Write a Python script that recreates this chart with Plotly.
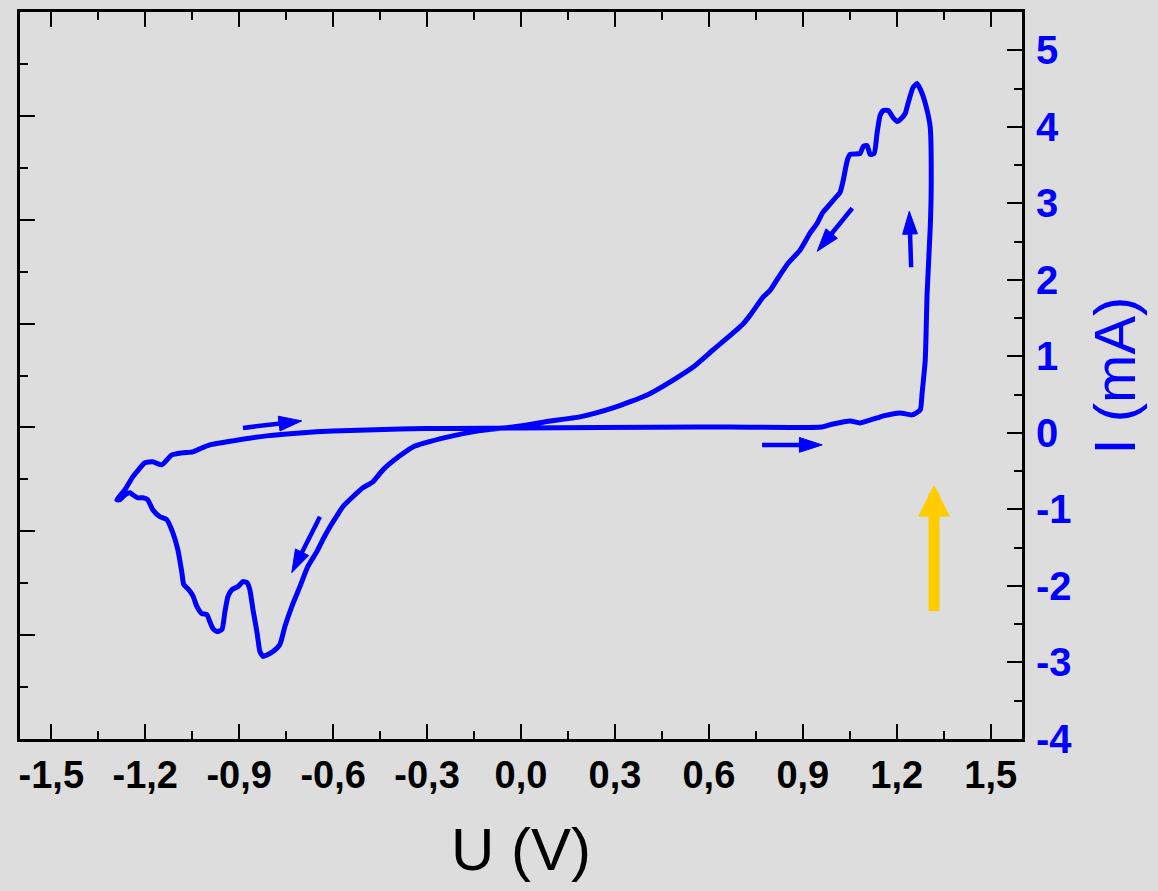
import plotly.graph_objects as go

# Cyclic voltammogram, U in V, I in mA
# forward sweep: from the cathodic vertex up to the anodic vertex
u_fwd = [-1.291, -1.265, -1.240, -1.227, -1.201, -1.176, -1.147, -1.115, -1.083, -1.048,
         -1.026, -0.994, -0.920, -0.812, -0.706, -0.601, -0.492, -0.387, -0.227, 0.000,
         0.252, 0.572, 0.962, 0.997, 1.051, 1.083, 1.137, 1.157, 1.211, 1.249, 1.275]
i_fwd = [-0.874, -0.743, -0.574, -0.509, -0.391, -0.378, -0.417, -0.287, -0.261, -0.248,
         -0.209, -0.157, -0.104, -0.039, 0.000, 0.026, 0.039, 0.052, 0.059, 0.065,
         0.072, 0.078, 0.078, 0.117, 0.157, 0.130, 0.196, 0.222, 0.261, 0.235, 0.300]

# steep anodic rise at the vertex
u_turn = [1.281, 1.291, 1.297, 1.307, 1.310, 1.307, 1.297, 1.281, 1.265]
i_turn = [0.522, 0.952, 1.826, 2.687, 3.209, 3.991, 4.213, 4.435, 4.565]

# reverse sweep: back down through the cathodic peaks to the vertex
u_rev = [1.252, 1.236, 1.227, 1.211, 1.201, 1.188, 1.173, 1.157, 1.147, 1.137,
         1.128, 1.115, 1.105, 1.093, 1.083, 1.051, 1.042, 1.029, 1.019, 0.997,
         0.978, 0.962, 0.946, 0.923, 0.891, 0.853, 0.827, 0.796, 0.773, 0.732,
         0.706, 0.613, 0.550, 0.486, 0.403, 0.294, 0.188, 0.083, -0.003, -0.131,
         -0.236, -0.345, -0.387, -0.441, -0.473, -0.505, -0.537, -0.569, -0.588, -0.610,
         -0.633, -0.652, -0.681, -0.706, -0.732, -0.754, -0.770, -0.792, -0.815, -0.824,
         -0.834, -0.843, -0.856, -0.866, -0.875, -0.888, -0.904, -0.923, -0.936, -0.946,
         -0.955, -0.971, -0.984, -0.994, -1.003, -1.019, -1.035, -1.048, -1.064, -1.077,
         -1.083, -1.096, -1.112, -1.131, -1.153, -1.176, -1.192, -1.208, -1.224, -1.240,
         -1.249, -1.265, -1.281, -1.291]
i_rev = [4.513, 4.304, 4.174, 4.095, 4.069, 4.121, 4.213, 4.213, 4.148, 3.913,
         3.652, 3.639, 3.756, 3.743, 3.652, 3.639, 3.561, 3.300, 3.143, 3.039,
         2.948, 2.869, 2.739, 2.609, 2.387, 2.217, 2.061, 1.865, 1.774, 1.539,
         1.409, 1.083, 0.861, 0.691, 0.496, 0.326, 0.209, 0.150, 0.090, 0.030,
         -0.055, -0.183, -0.300, -0.483, -0.639, -0.717, -0.835, -0.965, -1.083, -1.226,
         -1.396, -1.552, -1.748, -2.009, -2.269, -2.530, -2.765, -2.856, -2.909, -2.922,
         -2.856, -2.609, -2.309, -2.048, -1.956, -1.943, -2.009, -2.048, -2.139, -2.348,
         -2.569, -2.596, -2.556, -2.465, -2.374, -2.361, -2.269, -2.126, -2.035, -1.983,
         -1.826, -1.526, -1.304, -1.135, -1.096, -1.004, -0.874, -0.848, -0.848, -0.809,
         -0.783, -0.809, -0.874, -0.874]

# sweep direction arrows: (U, I) of tail and head
sweep_arrows = [
    ((-0.888, 0.065), (-0.700, 0.157)),
    ((0.770, -0.157), (0.962, -0.157)),
    ((1.246, 2.165), (1.240, 2.896)),
    ((1.058, 2.935), (0.946, 2.374)),
    ((-0.642, -1.096), (-0.732, -1.826)),
]
# highlighted vertex marker (tail, head)
vertex_arrow = ((1.319, -2.348), (1.319, -0.678))

x_ticks = [-1.5, -1.2, -0.9, -0.6, -0.3, 0.0, 0.3, 0.6, 0.9, 1.2, 1.5]
x_ticktext = ["-1,5", "-1,2", "-0,9", "-0,6", "-0,3", "0,0", "0,3", "0,6", "0,9", "1,2", "1,5"]
y_ticks = [-4, -3, -2, -1, 0, 1, 2, 3, 4, 5]
y_ticktext = ["-4", "-3", "-2", "-1", "0", "1", "2", "3", "4", "5"]

BLUE = "#0000ff"
BG = "#dddddd"
FONT = "Liberation Sans, Arial, Helvetica, sans-serif"

fig = go.Figure()

fig.add_trace(go.Scatter(
    x=u_fwd + u_turn + u_rev,
    y=i_fwd + i_turn + i_rev,
    mode="lines",
    line=dict(color=BLUE, width=5, shape="spline", smoothing=0.5),
    hoverinfo="skip",
    showlegend=False,
))

for (u0, i0), (u1, i1) in sweep_arrows:
    fig.add_trace(go.Scatter(
        x=[u0, u1], y=[i0, i1],
        mode="lines+markers",
        line=dict(color=BLUE, width=4.5),
        marker=dict(symbol="arrow", size=[0, 24], angleref="previous",
                    color=BLUE, opacity=1, line=dict(width=1, color=BLUE)),
        hoverinfo="skip",
        showlegend=False,
    ))

# empty trace carrying the left frame axis
fig.add_trace(go.Scatter(x=[], y=[], yaxis="y2", showlegend=False, hoverinfo="skip"))

(tu, ti), (hu, hi) = vertex_arrow
fig.add_annotation(
    x=hu, y=hi, ax=tu, ay=ti,
    xref="x", yref="y", axref="x", ayref="y",
    text="", showarrow=True,
    arrowhead=2, arrowwidth=11, arrowsize=0.58, arrowcolor="#ffcc00",
    standoff=0, startstandoff=0,
)

axis_common = dict(
    showline=True, linecolor="black", linewidth=3,
    ticks="inside", ticklen=15, tickwidth=2, tickcolor="black",
    showgrid=False, zeroline=False, automargin=False,
)

fig.update_layout(
    width=1158, height=891,
    margin=dict(l=20, r=136, t=12, b=152),
    paper_bgcolor=BG, plot_bgcolor=BG,
    showlegend=False,
    xaxis=dict(
        **axis_common,
        range=[-1.6, 1.6],
        tickmode="array", tickvals=x_ticks, ticktext=x_ticktext,
        mirror="ticks",
        minor=dict(ticks="inside", ticklen=8, tickwidth=2, tickcolor="black",
                   tick0=-1.5, dtick=0.15),
        tickfont=dict(family=FONT, size=38, color="black", weight="bold"),
        title=dict(text="U (V)", font=dict(family=FONT, size=60, color="black"),
                   standoff=34),
    ),
    yaxis=dict(
        **axis_common,
        side="right",
        range=[-4, 5.5],
        tickmode="array", tickvals=y_ticks, ticktext=y_ticktext,
        minor=dict(ticks="inside", ticklen=8, tickwidth=2, tickcolor="black",
                   tick0=0, dtick=0.5),
        tickfont=dict(family=FONT, size=40, color=BLUE, weight="bold"),
        ticklabelstandoff=3,
        title=dict(text="I (mA)", font=dict(family=FONT, size=58, color=BLUE),
                   standoff=24),
    ),
    yaxis2=dict(
        **axis_common,
        overlaying="y", side="left", anchor="x",
        range=[0, 7], tick0=0, dtick=1,
        showticklabels=False,
        minor=dict(ticks="inside", ticklen=8, tickwidth=2, tickcolor="black",
                   tick0=0, dtick=0.5),
    ),
)

fig.write_html("out.html")
